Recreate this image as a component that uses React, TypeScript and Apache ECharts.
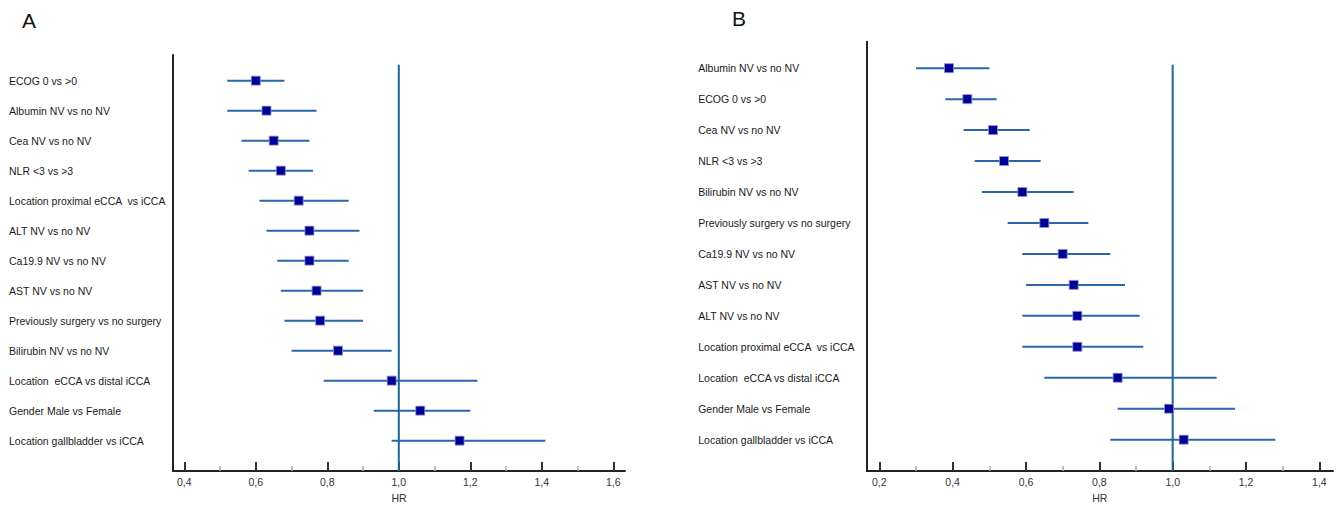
import React, { useEffect, useRef } from "react";
import * as echarts from "echarts";

// Panel A data (top to bottom)
const catsA = [
  "ECOG 0 vs >0",
  "Albumin NV vs no NV",
  "Cea NV vs no NV",
  "NLR <3 vs >3",
  "Location proximal eCCA  vs iCCA",
  "ALT NV vs no NV",
  "Ca19.9 NV vs no NV",
  "AST NV vs no NV",
  "Previously surgery vs no surgery",
  "Bilirubin NV vs no NV",
  "Location  eCCA vs distal iCCA",
  "Gender Male vs Female",
  "Location gallbladder vs iCCA",
];
const hrA = [0.6, 0.63, 0.65, 0.67, 0.72, 0.75, 0.75, 0.77, 0.78, 0.83, 0.98, 1.06, 1.17];
const loA = [0.52, 0.52, 0.56, 0.58, 0.61, 0.63, 0.66, 0.67, 0.68, 0.7, 0.79, 0.93, 0.98];
const hiA = [0.68, 0.77, 0.75, 0.76, 0.86, 0.89, 0.86, 0.9, 0.9, 0.98, 1.22, 1.2, 1.41];

// Panel B data (top to bottom)
const catsB = [
  "Albumin NV vs no NV",
  "ECOG 0 vs >0",
  "Cea NV vs no NV",
  "NLR <3 vs >3",
  "Bilirubin NV vs no NV",
  "Previously surgery vs no surgery",
  "Ca19.9 NV vs no NV",
  "AST NV vs no NV",
  "ALT NV vs no NV",
  "Location proximal eCCA  vs iCCA",
  "Location  eCCA vs distal iCCA",
  "Gender Male vs Female",
  "Location gallbladder vs iCCA",
];
const hrB = [0.39, 0.44, 0.51, 0.54, 0.59, 0.65, 0.7, 0.73, 0.74, 0.74, 0.85, 0.99, 1.03];
const loB = [0.3, 0.38, 0.43, 0.46, 0.48, 0.55, 0.59, 0.6, 0.59, 0.59, 0.65, 0.85, 0.83];
const hiB = [0.5, 0.52, 0.61, 0.64, 0.73, 0.77, 0.83, 0.87, 0.91, 0.92, 1.12, 1.17, 1.28];

// Tick labels
const majorTicksA = [0.4, 0.6, 0.8, 1.0, 1.2, 1.4, 1.6];
const minorTicksA = [0.5, 0.7, 0.9, 1.1, 1.3, 1.5];
const majorTicksB = [0.2, 0.4, 0.6, 0.8, 1.0, 1.2, 1.4];
const minorTicksB = [0.3, 0.5, 0.7, 0.9, 1.1, 1.3];
const nullHR = 1.0;
const panelTitles = ["A", "B"];
const axisName = "HR";

const FONT = "'Liberation Sans', Arial, sans-serif";
const BAR_COLOR = "#2b66ad";
const MARK_COLOR = "#000092";
const REF_COLOR = "#1d6690";

export default function App() {
  const ref = useRef<HTMLDivElement>(null);

  useEffect(() => {
    if (!ref.current) return;
    const chart = echarts.init(ref.current, undefined, { renderer: "svg" });

    const yMin = -0.855;
    const yMax = 13.015;

    const fmt = (v: number) => v.toFixed(1).replace(".", ",");

    const makeX = (
      gridIndex: number,
      min: number,
      max: number,
      major: number[],
      minor: number[]
    ) => [
      {
        type: "value",
        gridIndex,
        min,
        max,
        position: "bottom",
        name: axisName,
        nameLocation: "middle",
        nameGap: 18,
        nameTextStyle: { fontFamily: FONT, fontSize: 10.5, color: "#333" },
        axisLine: { show: true, onZero: false, lineStyle: { color: "#222", width: 2 } },
        axisTick: {
          show: true,
          inside: true,
          length: 9,
          customValues: major,
          lineStyle: { color: "#333", width: 2 },
        },
        axisLabel: {
          show: true,
          customValues: major,
          formatter: (v: number) => fmt(v),
          margin: 5,
          fontFamily: FONT,
          fontSize: 10.5,
          color: "#333",
        },
        splitLine: { show: false },
      },
      {
        type: "value",
        gridIndex,
        min,
        max,
        position: "bottom",
        axisLine: { show: false, onZero: false },
        axisTick: {
          show: true,
          inside: true,
          length: 5,
          customValues: minor,
          lineStyle: { color: "#aaa", width: 1.5 },
        },
        axisLabel: { show: false },
        splitLine: { show: false },
      },
    ];

    const makeY = (gridIndex: number, cats: string[], margin: number) => ({
      type: "value",
      gridIndex,
      inverse: true,
      min: yMin,
      max: yMax,
      axisLine: { show: true, onZero: false, lineStyle: { color: "#222", width: 2 } },
      axisTick: { show: false },
      axisLabel: {
        show: true,
        customValues: cats.map((_, i) => i),
        formatter: (v: number) => cats[Math.round(v)] ?? "",
        align: "left",
        margin,
        fontFamily: FONT,
        fontSize: 10.5,
        color: "#1a1a1a",
      },
      splitLine: { show: false },
    });

    const errSeries = (xi: number, yi: number, lo: number[], hi: number[]) => ({
      type: "custom",
      xAxisIndex: xi,
      yAxisIndex: yi,
      data: lo.map((l, i) => [l, hi[i], i]),
      encode: { x: [0, 1], y: 2 },
      z: 3,
      renderItem: (_params: any, api: any) => {
        const p1 = api.coord([api.value(0), api.value(2)]);
        const p2 = api.coord([api.value(1), api.value(2)]);
        return {
          type: "line",
          shape: { x1: p1[0], y1: p1[1], x2: p2[0], y2: p2[1] },
          style: { stroke: BAR_COLOR, lineWidth: 2 },
        };
      },
    });

    const markSeries = (xi: number, yi: number, hr: number[]) => ({
      type: "scatter",
      xAxisIndex: xi,
      yAxisIndex: yi,
      data: hr.map((h, i) => [h, i]),
      symbol: "rect",
      symbolSize: 9,
      z: 5,
      itemStyle: { color: MARK_COLOR, borderColor: "#8d92d6", borderWidth: 0.8, opacity: 1 },
    });

    const refSeries = (xi: number, yi: number, top: number) => ({
      type: "line",
      xAxisIndex: xi,
      yAxisIndex: yi,
      data: [
        [nullHR, top],
        [nullHR, yMax],
      ],
      symbol: "none",
      z: 4,
      lineStyle: { color: REF_COLOR, width: 2 },
    });

    chart.setOption({
      animation: false,
      backgroundColor: "#fff",
      title: [
        {
          text: panelTitles[0],
          left: 22,
          top: 10,
          textStyle: { fontFamily: FONT, fontSize: 21, fontWeight: "normal", color: "#111" },
          padding: 0,
        },
        {
          text: panelTitles[1],
          left: 732,
          top: 8,
          textStyle: { fontFamily: FONT, fontSize: 21, fontWeight: "normal", color: "#111" },
          padding: 0,
        },
      ],
      grid: [
        { left: 173, top: 55, width: 452, height: 421 },
        { left: 866.7, top: 41.7, width: 466.3, height: 433.3 },
      ],
      xAxis: [
        ...makeX(0, 0.3684, 1.6327, majorTicksA, minorTicksA),
        ...makeX(1, 0.1656, 1.4372, majorTicksB, minorTicksB),
      ],
      yAxis: [makeY(0, catsA, 164), makeY(1, catsB, 168.5)],
      series: [
        refSeries(0, 0, -0.53),
        errSeries(0, 0, loA, hiA),
        markSeries(0, 0, hrA),
        refSeries(2, 1, -0.11),
        errSeries(2, 1, loB, hiB),
        markSeries(2, 1, hrB),
      ],
    });

    return () => chart.dispose();
  }, []);

  return (
    <div
      ref={ref}
      style={{ position: "fixed", left: 0, top: 0, width: 1341, height: 508, background: "#fff" }}
    />
  );
}
